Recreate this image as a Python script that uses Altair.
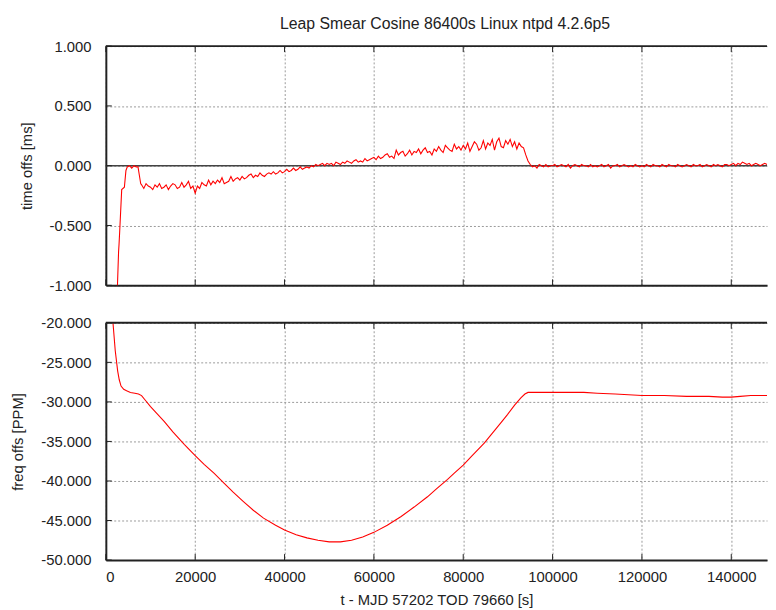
import altair as alt
import pandas as pd

chart_title = "Leap Smear Cosine 86400s Linux ntpd 4.2.6p5"
x_title = "t - MJD 57202 TOD 79660 [s]"
top_y_title = "time offs [ms]"
bot_y_title = "freq offs [PPM]"

x_ticks = [0, 20000, 40000, 60000, 80000, 100000, 120000, 140000]
top_y_ticks = [-1.0, -0.5, 0.0, 0.5, 1.0]
bot_y_ticks = [-50, -45, -40, -35, -30, -25, -20]

# time offset [ms] - initial transient (irregular sampling)
top_t_head = [2300, 2600, 2850, 2950, 3100, 3550, 4150, 4500, 4800, 5300,
              5800, 6300, 6800, 7200, 7500, 7800]
top_v_head = [-1.4, -1.0, -0.72, -0.66, -0.55, -0.20, -0.18, -0.04, -0.01, 0.00,
              -0.02, 0.00, -0.01, -0.01, -0.08, -0.15]

# time offset [ms] every 500 s starting at t = 8000
top_grid_start = 8000
top_grid_step = 500
top_v_grid = [
    # 8000 - 19500
    -0.16, -0.19, -0.15, -0.17, -0.18, -0.20, -0.16, -0.18, -0.15, -0.19,
    -0.18, -0.16, -0.20, -0.17, -0.15, -0.16, -0.19, -0.18, -0.14, -0.18,
    -0.16, -0.13, -0.19, -0.17,
    # 20000 - 29500
    -0.23, -0.17, -0.19, -0.14, -0.16, -0.17, -0.12, -0.16, -0.13, -0.15,
    -0.12, -0.14, -0.10, -0.15, -0.14, -0.13, -0.09, -0.13, -0.11, -0.10,
    # 30000 - 39500
    -0.12, -0.09, -0.11, -0.10, -0.08, -0.07, -0.10, -0.08, -0.09, -0.06,
    -0.08, -0.09, -0.07, -0.06, -0.07, -0.05, -0.07, -0.06, -0.04, -0.06,
    # 40000 - 49500
    -0.05, -0.03, -0.05, -0.04, -0.02, -0.04, -0.03, -0.01, -0.03, -0.02,
    -0.01, -0.02, 0.00, -0.01, 0.01, 0.00, 0.01, 0.02, 0.00, 0.02,
    # 50000 - 59500
    0.01, 0.02, 0.00, 0.03, 0.02, 0.01, 0.03, 0.02, 0.04, 0.03,
    0.02, 0.04, 0.05, 0.03, 0.04, 0.03, 0.06, 0.04, 0.05, 0.06,
    # 60000 - 69500
    0.07, 0.05, 0.08, 0.06, 0.07, 0.09, 0.10, 0.07, 0.08, 0.06,
    0.13, 0.09, 0.11, 0.12, 0.08, 0.10, 0.13, 0.09, 0.12, 0.11,
    # 70000 - 79500
    0.14, 0.10, 0.13, 0.15, 0.11, 0.12, 0.09, 0.14, 0.12, 0.16,
    0.13, 0.11, 0.17, 0.15, 0.13, 0.12, 0.18, 0.14, 0.16, 0.13,
    # 80000 - 89500
    0.17, 0.14, 0.19, 0.12, 0.16, 0.20, 0.18, 0.13, 0.15, 0.21,
    0.14, 0.19, 0.17, 0.22, 0.13, 0.20, 0.23, 0.16, 0.15, 0.21,
    # 90000 - 99500
    0.18, 0.22, 0.16, 0.20, 0.14, 0.19, 0.16, 0.15, 0.09, 0.04,
    0.01, -0.01, 0.00, -0.02, 0.01, 0.00, -0.01, 0.01, -0.01, 0.00,
    # 100000 - 109500
    0.00, 0.01, -0.01, 0.00, 0.01, 0.00, -0.01, 0.01, -0.02, 0.00,
    0.01, 0.00, -0.01, 0.01, 0.00, 0.00, -0.01, 0.01, -0.01, 0.00,
    # 110000 - 119500
    -0.01, 0.00, 0.01, -0.01, 0.00, 0.01, -0.02, 0.00, 0.00, 0.01,
    -0.01, 0.00, 0.01, 0.00, -0.01, 0.00, -0.01, 0.01, 0.00, -0.01,
    # 120000 - 129500
    0.00, -0.01, 0.01, 0.00, -0.01, 0.01, 0.00, 0.00, -0.01, 0.01,
    0.00, -0.01, 0.01, 0.00, 0.00, -0.01, 0.01, 0.00, -0.01, 0.00,
    # 130000 - 139500
    0.01, 0.00, -0.01, 0.01, 0.00, 0.00, 0.01, -0.01, 0.00, 0.01,
    0.00, -0.01, 0.01, 0.00, 0.01, 0.00, -0.01, 0.01, 0.01, 0.00,
    # 140000 - 148000
    0.01, 0.02, 0.00, 0.02, 0.01, 0.03, 0.02, 0.01, 0.02, 0.00,
    0.01, 0.02, 0.01, 0.00, 0.01, 0.02, 0.01,
]

# frequency offset [PPM]
bot_t = [1300, 1600, 2100, 2650, 3000, 3400, 4000, 4650, 5500, 6500,
         7300, 8000, 8700, 10000, 11500, 13100, 15000, 17600, 20000, 22000,
         24200, 26500, 28500, 30800, 33000, 35300, 38000, 40000, 42600, 45000,
         47500, 50000, 52500, 55000, 57500, 60000, 63000, 66100, 69000, 72000,
         74000, 76500, 78000, 80000, 82000, 84700, 86900, 88500, 89900, 91500,
         92900, 93800, 94500, 96000, 100000, 104000, 107000, 110000, 114000, 120000,
         125000, 130000, 135000, 138000, 140000, 142000, 144400, 146000, 148000]
bot_v = [-17.0, -20.0, -23.5, -26.1, -27.2, -28.0, -28.4, -28.6, -28.8, -28.9,
         -29.0, -29.2, -29.7, -30.6, -31.5, -32.5, -33.8, -35.4, -36.8, -37.9,
         -39.0, -40.3, -41.4, -42.6, -43.7, -44.7, -45.6, -46.2, -46.8, -47.2,
         -47.5, -47.7, -47.7, -47.5, -47.1, -46.5, -45.6, -44.5, -43.3, -42.0,
         -41.0, -39.8, -39.0, -38.0, -36.8, -35.2, -33.7, -32.6, -31.6, -30.4,
         -29.5, -29.0, -28.8, -28.8, -28.8, -28.8, -28.8, -28.9, -29.0, -29.2,
         -29.2, -29.3, -29.3, -29.4, -29.4, -29.3, -29.2, -29.2, -29.2]

top_t = top_t_head + [top_grid_start + top_grid_step * i for i in range(len(top_v_grid))]
top_v = top_v_head + top_v_grid

top_df = pd.DataFrame({"t": top_t, "v": top_v})
bot_df = pd.DataFrame({"t": bot_t, "v": bot_v})
xt_df = pd.DataFrame({"t": x_ticks})
ty_df = pd.DataFrame({"v": top_y_ticks})
by_df = pd.DataFrame({"v": bot_y_ticks})
zero_df = pd.DataFrame({"v": [0.0]})
one_df = pd.DataFrame({"a": [0]})

W = 669
H_TOP = 242
H_BOT = 240
X_MAX = 148000
FONT = "Liberation Sans"
BORDER = "#222222"
GRID = "#9a9a9a"
TXT = "#222222"
HYPHEN_LABEL = "replace(datum.label, '\u2212', '-')"

x_scale = alt.Scale(domain=[0, X_MAX], nice=False, zero=False)

common_axis = dict(grid=True, gridDash=[2, 2], gridColor=GRID, gridWidth=1, gridOpacity=1,
                   domainColor=BORDER, domainWidth=2, ticks=False,
                   labelFont=FONT, labelFontSize=15, labelColor=TXT,
                   titleFont=FONT, titleFontSize=15, titleFontWeight="normal", titleColor=TXT)

x_top = alt.X("t:Q", scale=x_scale,
              axis=alt.Axis(values=x_ticks, labels=False, title=None, **common_axis))
x_bot = alt.X("t:Q", scale=x_scale,
              axis=alt.Axis(values=x_ticks, format="d", labelPadding=10, title=x_title,
                            titlePadding=8, **common_axis))
y_top = alt.Y("v:Q", scale=alt.Scale(domain=[-1, 1], nice=False, zero=False),
              axis=alt.Axis(values=top_y_ticks, format=".3f", labelExpr=HYPHEN_LABEL,
                            labelPadding=15, title=top_y_title, titlePadding=15,
                            **common_axis))
y_bot = alt.Y("v:Q", scale=alt.Scale(domain=[-50, -20], nice=False, zero=False),
              axis=alt.Axis(values=bot_y_ticks, format=".3f", labelExpr=HYPHEN_LABEL,
                            labelPadding=15, title=bot_y_title, titlePadding=15,
                            **common_axis))


def panel(df, x_enc, y_enc, y_df, h, zero=False):
    line = alt.Chart(df).mark_line(color="#ff0000", strokeWidth=1.1, clip=True).encode(
        x=x_enc, y=y_enc)
    top_border = alt.Chart(one_df).mark_rule(color=BORDER, strokeWidth=2).encode(
        x=alt.value(0), x2=alt.value(W), y=alt.value(0))
    xt_top = alt.Chart(xt_df).mark_rule(color=BORDER, strokeWidth=1).encode(
        x=x_enc, y=alt.value(0), y2=alt.value(6))
    xt_bot = alt.Chart(xt_df).mark_rule(color=BORDER, strokeWidth=1).encode(
        x=x_enc, y=alt.value(h - 6), y2=alt.value(h))
    yt_left = alt.Chart(y_df).mark_rule(color=BORDER, strokeWidth=1).encode(
        y=y_enc, x=alt.value(0), x2=alt.value(6))
    layers = [line, top_border, xt_top, xt_bot, yt_left]
    if zero:
        zr = alt.Chart(zero_df).mark_rule(color="#444444", strokeWidth=1.6).encode(y=y_enc)
        layers = [zr] + layers
    return alt.layer(*layers).properties(width=W, height=h)


top = panel(top_df, x_top, y_top, ty_df, H_TOP, zero=True)
bottom = panel(bot_df, x_bot, y_bot, by_df, H_BOT)

chart = alt.vconcat(top, bottom, spacing=23).properties(
    title=alt.Title(chart_title, fontSize=16, font=FONT, fontWeight="normal",
                    color=TXT, anchor="start", dx=272, offset=7),
    padding={"left": 3, "top": 5, "right": 0, "bottom": 0},
    background="white",
).configure_view(stroke=None)

chart.save("out.html", embed_options={"renderer": "svg", "actions": False})
